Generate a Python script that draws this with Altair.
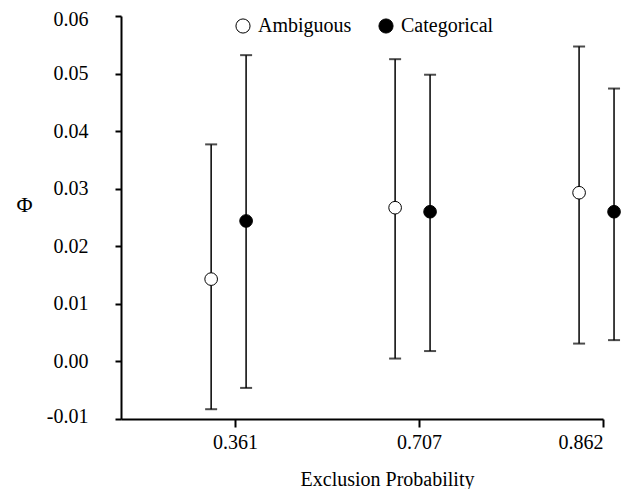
import altair as alt
import pandas as pd

probs = ["0.361", "0.707", "0.862"]
series = ["Ambiguous", "Categorical"]
amb_mean = [0.0143, 0.0267, 0.0293]
amb_lo = [-0.0083, 0.0005, 0.0031]
amb_hi = [0.0377, 0.0525, 0.0547]
cat_mean = [0.0244, 0.0260, 0.0260]
cat_lo = [-0.0046, 0.0018, 0.0037]
cat_hi = [0.0532, 0.0498, 0.0474]
y_ticks = [-0.01, 0.0, 0.01, 0.02, 0.03, 0.04, 0.05, 0.06]

rows = []
for i, p in enumerate(probs):
    rows.append(dict(idx=i + 1, prob=p, series="Ambiguous", mean=amb_mean[i], lo=amb_lo[i], hi=amb_hi[i]))
    rows.append(dict(idx=i + 1, prob=p, series="Categorical", mean=cat_mean[i], lo=cat_lo[i], hi=cat_hi[i]))
df = pd.DataFrame(rows)

FONT = "Liberation Serif"
label_arr = "[" + ",".join("'" + p + "'" for p in probs) + "]"

base = alt.Chart(df).transform_calculate(
    xpos="datum.idx + (datum.series == 'Ambiguous' ? -0.13 : 0.06)"
)

xscale = alt.Scale(domain=[0.38, 3.0], nice=False, zero=False)
yscale = alt.Scale(domain=[-0.01, 0.06], nice=False, zero=False)

xaxis = alt.Axis(
    values=[1, 2, 3],
    labelExpr=label_arr + "[datum.value - 1]",
    labelFont=FONT, labelFontSize=20, labelColor="black",
    title="Exclusion Probability",
    titleFont=FONT, titleFontSize=20, titleColor="black", titleFontWeight="normal",
    titleX=266, titleY=66, titleBaseline="alphabetic", titleAnchor="start", titleAlign="center",
    tickSize=8, labelPadding=5,
)
yaxis = alt.Axis(
    values=y_ticks,
    labelExpr="replace(format(datum.value, '.2f'), '\u2212', '-')",
    labelFont=FONT, labelFontSize=20, labelColor="black",
    labelFlush=True, labelFlushOffset=7,
    title="Φ", titleAngle=0, titleX=-97, titleY=188,
    titleFont=FONT, titleFontSize=22, titleColor="black", titleFontWeight="normal",
    titleBaseline="middle", titleAlign="center",
    tickSize=6, labelPadding=27,
)

rules = base.mark_rule(color="black", strokeWidth=1.5).encode(
    x=alt.X("xpos:Q", scale=xscale, axis=xaxis),
    y=alt.Y("lo:Q", scale=yscale, axis=yaxis),
    y2="hi:Q",
)
caps_lo = base.mark_tick(color="black", orient="horizontal", size=12, thickness=2).encode(
    x=alt.X("xpos:Q", scale=xscale, axis=xaxis),
    y=alt.Y("lo:Q", scale=yscale, axis=yaxis),
)
caps_hi = base.mark_tick(color="black", orient="horizontal", size=12, thickness=2).encode(
    x=alt.X("xpos:Q", scale=xscale, axis=xaxis),
    y=alt.Y("hi:Q", scale=yscale, axis=yaxis),
)
points = base.mark_point(filled=True, stroke="black", strokeWidth=1, size=160, shape="circle", opacity=1).encode(
    x=alt.X("xpos:Q", scale=xscale, axis=xaxis),
    y=alt.Y("mean:Q", scale=yscale, axis=yaxis),
    fill=alt.Fill(
        "series:N",
        scale=alt.Scale(domain=series, range=["white", "black"]),
        legend=alt.Legend(
            title=None, orient="none", legendX=112, legendY=0, direction="horizontal",
            symbolType="circle", symbolSize=200, symbolStrokeColor="black", symbolStrokeWidth=1,
            labelFont=FONT, labelFontSize=20, labelColor="black", labelOffset=5, columnPadding=24,
            symbolOpacity=1,
        ),
    ),
)

chart = alt.layer(rules, caps_lo, caps_hi, points).properties(
    width=482, height=403,
    autosize=alt.AutoSizeParams(type="none"),
    padding={"left": 113, "top": 8, "right": 30, "bottom": 70},
).configure_view(stroke=None).configure_axis(
    domainColor="black", domainWidth=2, tickColor="black", tickWidth=2,
    labelFont=FONT, labelFontSize=20, labelColor="black",
    titleFont=FONT, titleFontSize=20, titleColor="black", titleFontWeight="normal",
    grid=False,
).configure_legend(labelFont=FONT)

chart.save("out.html", embed_options={"renderer": "svg", "actions": False})
